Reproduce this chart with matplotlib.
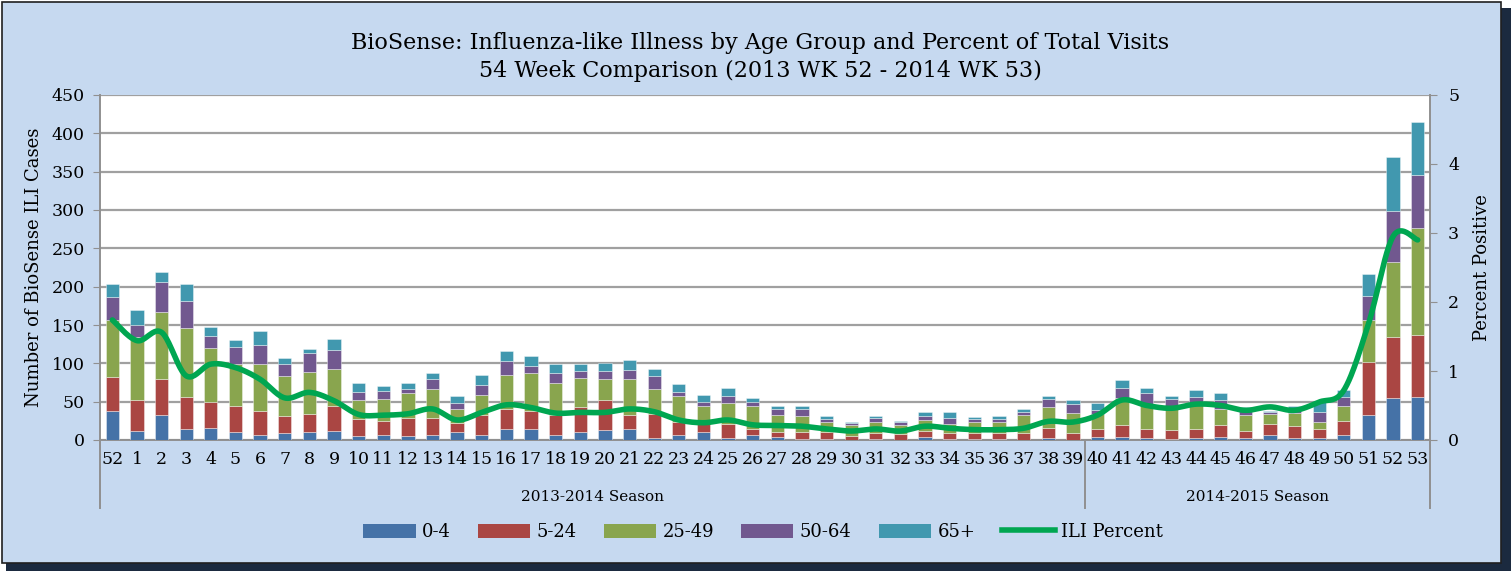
import numpy as np
import matplotlib
matplotlib.use("Agg")
import matplotlib.pyplot as plt
from matplotlib.patches import Rectangle
from matplotlib.lines import Line2D
from matplotlib.patches import Patch

# ---------------- data ----------------
weeks = ["52", "1", "2", "3", "4", "5", "6", "7", "8", "9", "10", "11", "12", "13",
         "14", "15", "16", "17", "18", "19", "20", "21", "22", "23", "24", "25", "26",
         "27", "28", "29", "30", "31", "32", "33", "34", "35", "36", "37", "38", "39",
         "40", "41", "42", "43", "44", "45", "46", "47", "48", "49", "50", "51", "52", "53"]

age_0_4 = [38, 12, 33, 14, 16, 10, 7, 9, 11, 12, 5, 7, 5, 6, 10, 7, 14, 15, 7, 11, 13, 15,
           2, 7, 11, 3, 7, 4, 1, 1, 0, 1, 0, 4, 1, 1, 1, 0, 2, 0, 4, 4, 2, 1, 2, 4, 3, 6,
           2, 2, 6, 32, 55, 56]
age_5_24 = [44, 40, 47, 42, 34, 34, 31, 22, 23, 32, 22, 18, 24, 23, 12, 25, 27, 23, 25, 32,
            39, 18, 32, 16, 15, 18, 8, 7, 9, 9, 5, 8, 8, 8, 8, 8, 8, 9, 14, 9, 11, 15, 12,
            12, 12, 15, 9, 15, 16, 13, 19, 70, 80, 81]
age_25_49 = [75, 82, 87, 90, 70, 55, 61, 53, 55, 48, 25, 29, 32, 38, 19, 27, 44, 49, 43, 38,
             28, 47, 32, 34, 19, 27, 30, 22, 21, 14, 14, 14, 12, 14, 12, 14, 14, 24, 27, 26,
             19, 36, 32, 32, 34, 21, 20, 13, 17, 9, 20, 54, 97, 139]
age_50_64 = [30, 16, 39, 35, 16, 22, 25, 15, 25, 25, 11, 10, 6, 13, 7, 13, 18, 10, 13, 9, 10,
             11, 17, 6, 4, 10, 4, 8, 9, 4, 3, 6, 4, 5, 8, 4, 5, 4, 10, 12, 5, 13, 15, 8, 8,
             12, 9, 2, 7, 13, 11, 32, 67, 69]
age_65_plus = [17, 20, 13, 22, 12, 10, 18, 8, 5, 15, 12, 7, 7, 7, 10, 13, 13, 12, 11, 9, 10,
               14, 10, 10, 10, 10, 6, 4, 4, 3, 1, 2, 1, 6, 7, 3, 3, 3, 5, 5, 9, 10, 7, 5, 9,
               9, 2, 2, 2, 13, 9, 28, 70, 70]
ili_percent = [1.74, 1.44, 1.56, 0.93, 1.10, 1.05, 0.88, 0.61, 0.69, 0.57, 0.37, 0.36, 0.38,
               0.45, 0.29, 0.40, 0.51, 0.47, 0.39, 0.40, 0.40, 0.45, 0.41, 0.29, 0.25, 0.29,
               0.22, 0.21, 0.20, 0.16, 0.13, 0.16, 0.13, 0.20, 0.17, 0.15, 0.15, 0.17, 0.27,
               0.26, 0.36, 0.58, 0.50, 0.46, 0.52, 0.50, 0.43, 0.48, 0.43, 0.55, 0.72, 1.68,
               2.95, 2.90]

series_names = ["0-4", "5-24", "25-49", "50-64", "65+"]
series_vals = [age_0_4, age_5_24, age_25_49, age_50_64, age_65_plus]
series_colors = ["#4572A7", "#AA4643", "#89A54E", "#71588F", "#4198AF"]
line_color = "#00A651"

seasons = ["2013-2014 Season", "2014-2015 Season"]
season_split = 40  # index where 2014-2015 season starts

title = ("BioSense: Influenza-like Illness by Age Group and Percent of Total Visits\n"
         "54 Week Comparison (2013 WK 52 - 2014 WK 53)")

# ---------------- figure ----------------
FONT = "DejaVu Serif"
plt.rcParams["font.family"] = [FONT]
W, H = 1511, 571
fig = plt.figure(figsize=(W / 100, H / 100), dpi=100)
fig.patch.set_facecolor("white")

# shadow + chart area frame
fig.add_artist(Rectangle((6 / W, 0), 1 - 6 / W, 1 - 8 / H, transform=fig.transFigure,
                         facecolor="#1B2A3F", edgecolor="none", zorder=-3))
fig.add_artist(Rectangle((2 / W, 8 / H), 1 - 12 / W, 1 - 10 / H, transform=fig.transFigure,
                         facecolor="#C6D9F0", edgecolor="#202020", lw=1.2, zorder=-2))

left, right, top, bottom = 100, 1430, 95, 440
ax = fig.add_axes([left / W, (H - bottom) / H, (right - left) / W, (bottom - top) / H])
ax.set_facecolor("white")

x = np.arange(len(weeks))
base = np.zeros(len(weeks))
for name, vals, col in zip(series_names, series_vals, series_colors):
    v = np.array(vals, dtype=float)
    ax.bar(x, v, bottom=base, width=0.54, color=col, edgecolor=(1, 1, 1, 0.45),
           linewidth=0.6, label=name, zorder=3)
    base += v

ax.set_xlim(-0.5, len(weeks) - 0.5)
ax.set_ylim(0, 450)
ax.set_yticks(np.arange(0, 451, 50))
ax.grid(axis="y", color="#A0A0A0", lw=1.6, zorder=0)
ax.set_axisbelow(True)
for s in ["left", "bottom", "right", "top"]:
    ax.spines[s].set_color("#909090")
    ax.spines[s].set_linewidth(1.4)
ax.spines["top"].set_visible(False)
ax.set_xticks(x)
ax.set_xticklabels(weeks, fontsize=12.5)
ax.tick_params(axis="x", length=0, pad=8)
ax.tick_params(axis="y", labelsize=12.5, direction="out", length=5, color="#909090", pad=6)
ax.set_ylabel("Number of BioSense ILI Cases", fontsize=13, labelpad=6)

# secondary axis
ax2 = ax.twinx()
ax2.set_ylim(0, 5)
ax2.set_yticks(np.arange(0, 6, 1))
ax2.tick_params(axis="y", labelsize=12.5, direction="out", length=5, color="#909090", pad=8)
for s in ["left", "bottom", "right", "top"]:
    ax2.spines[s].set_visible(False)
ax2.set_ylabel("Percent Positive", fontsize=13, labelpad=10)


def smooth(xs, ys, n=24):
    xs = np.asarray(xs, float)
    ys = np.asarray(ys, float)
    P = np.column_stack([xs, ys])
    out = []
    for i in range(len(P) - 1):
        p0 = P[i - 1] if i > 0 else P[i]
        p1, p2 = P[i], P[i + 1]
        p3 = P[i + 2] if i + 2 < len(P) else P[i + 1]
        c1 = p1 + (p2 - p0) / 6.0
        c2 = p2 - (p3 - p1) / 6.0
        t = np.linspace(0, 1, n, endpoint=False)[:, None]
        seg = ((1 - t) ** 3) * p1 + 3 * ((1 - t) ** 2) * t * c1 + 3 * (1 - t) * t ** 2 * c2 + t ** 3 * p2
        out.append(seg)
    out.append(P[-1:])
    out = np.vstack(out)
    return out[:, 0], out[:, 1]


sx, sy = smooth(x, ili_percent)
ax2.plot(sx, sy, color=line_color, lw=4, solid_capstyle="round", zorder=5)

# multi-level category axis lines and season labels
tr = ax.get_xaxis_transform()
for xv in [-0.5, season_split - 0.5, len(weeks) - 0.5]:
    ax.add_line(Line2D([xv, xv], [0, -68 / (bottom - top)], transform=tr, color="#909090",
                       lw=1.4, clip_on=False))
ax.text((0 + season_split - 1) / 2, -57 / (bottom - top), seasons[0], transform=tr,
        ha="center", va="center", fontsize=11)
ax.text((season_split + len(weeks) - 1) / 2, -57 / (bottom - top), seasons[1], transform=tr,
        ha="center", va="center", fontsize=11)

fig.text(760 / W, 1 - 57 / H, title, ha="center", va="center", fontsize=16, linespacing=1.35)

handles = [Patch(facecolor=c, label=n) for n, c in zip(series_names, series_colors)]
handles.append(Line2D([0], [0], color=line_color, lw=4, label="ILI Percent"))
fig.legend(handles=handles, loc="center", bbox_to_anchor=(763 / W, 1 - 532 / H), ncol=6,
           frameon=False, fontsize=13, handlelength=2.9, handleheight=0.8,
           columnspacing=1.5, handletextpad=0.35)

fig.savefig("out.png", dpi=100, facecolor=fig.get_facecolor())
